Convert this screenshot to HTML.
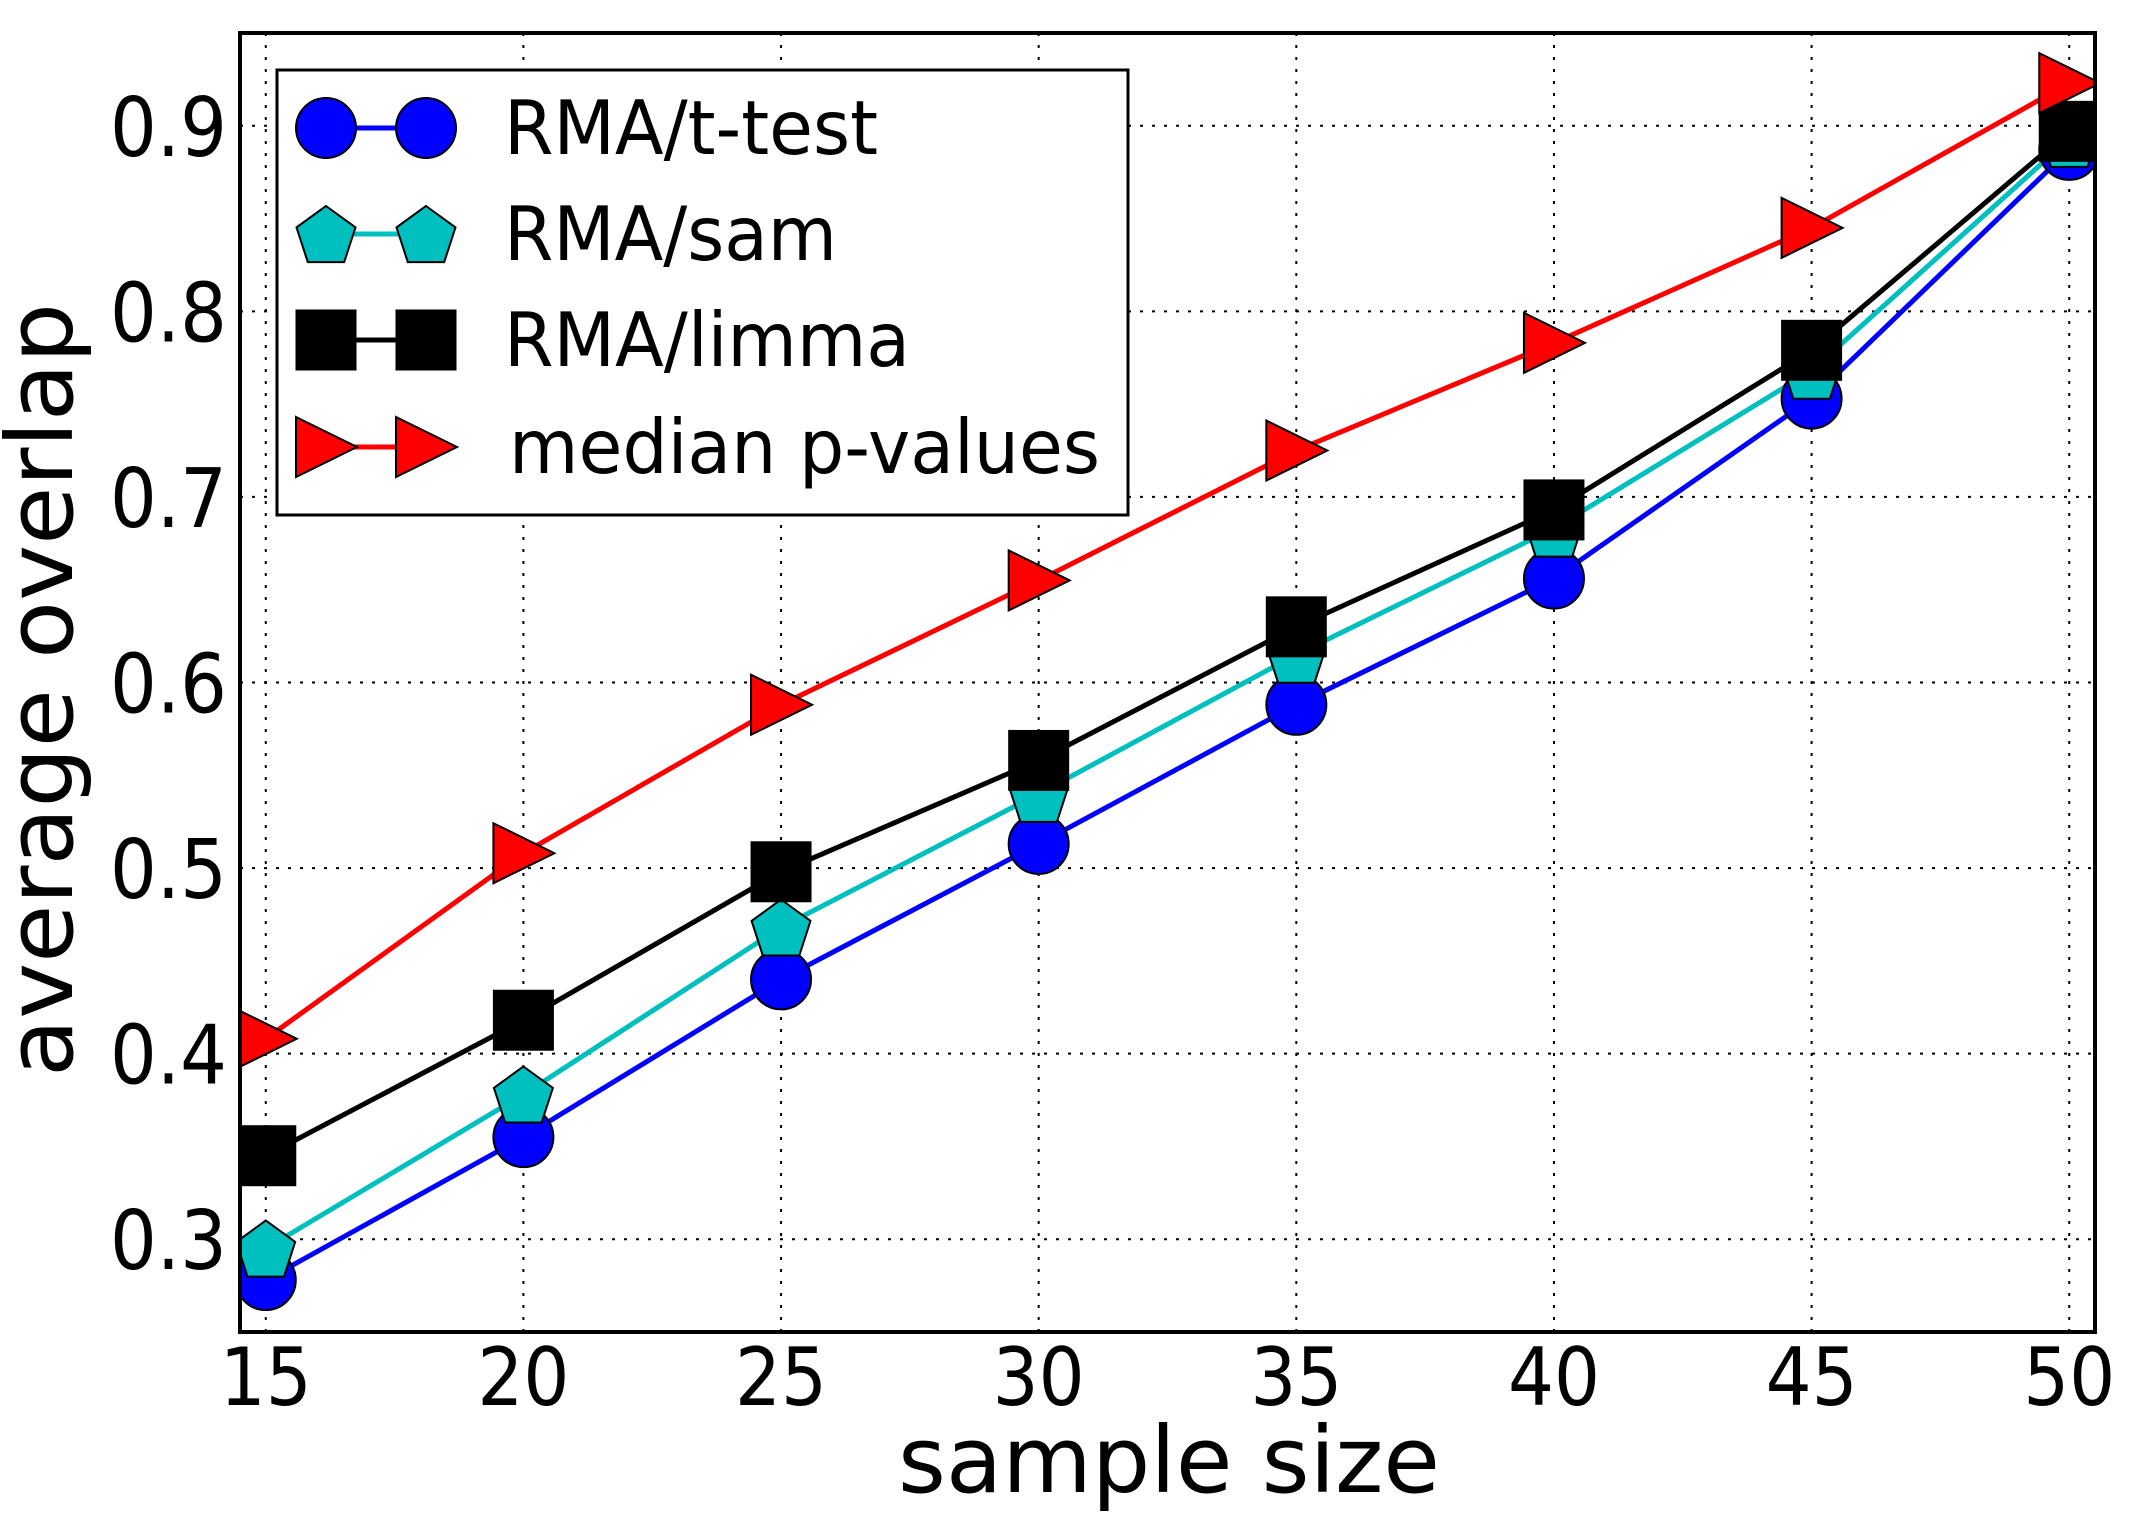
<!DOCTYPE html>
<html><head><meta charset="utf-8"><style>
html,body{margin:0;padding:0;background:#fff}
svg{display:block}
text{font-family:"DejaVu Sans","Liberation Sans",sans-serif;fill:#000}
</style></head><body>
<svg id="chart" width="2153" height="1528" viewBox="0 0 2153 1528" xmlns="http://www.w3.org/2000/svg">
<rect width="2153" height="1528" fill="#fff"/>
<g id="grid"></g>
<g id="series"></g>
<rect x="240" y="33" width="1855" height="1299" fill="none" stroke="#000" stroke-width="4"/>
<g id="ticks"></g>
<text x="898" y="1492" font-size="92" textLength="542" lengthAdjust="spacingAndGlyphs">sample size</text>
<text transform="translate(72,1077) rotate(-90)" font-size="92" textLength="774" lengthAdjust="spacingAndGlyphs">average overlap</text>
<g id="legend">
<rect x="277" y="70" width="851" height="445" fill="#fff" stroke="#000" stroke-width="3"/>
</g>
</svg>
<script>
const categories = [15, 20, 25, 30, 35, 40, 45, 50];
const ttestValues = [0.278, 0.355, 0.440, 0.513, 0.588, 0.656, 0.753, 0.887];
const samValues = [0.295, 0.378, 0.468, 0.540, 0.615, 0.683, 0.768, 0.893];
const limmaValues = [0.345, 0.418, 0.498, 0.558, 0.630, 0.693, 0.779, 0.897];
const medianValues = [0.408, 0.508, 0.588, 0.655, 0.725, 0.783, 0.845, 0.923];
const xTicks = [15, 20, 25, 30, 35, 40, 45, 50];
const yTicks = [0.3, 0.4, 0.5, 0.6, 0.7, 0.8, 0.9];
const yTickLabels = ["0.3", "0.4", "0.5", "0.6", "0.7", "0.8", "0.9"];
const seriesNames = ["RMA/t-test", "RMA/sam", "RMA/limma", "median p-values"];

const NS = "http://www.w3.org/2000/svg";
const L = 240, R = 2095, T = 33, B = 1332;
const xMin = 14.5, xMax = 50.5, yMin = 0.25, yMax = 0.95;
function xs(v){ return L + (v - xMin) / (xMax - xMin) * (R - L); }
function ys(v){ return B - (v - yMin) / (yMax - yMin) * (B - T); }
function mk(tag, attrs, parent){ const e = document.createElementNS(NS, tag); for (const k in attrs) e.setAttribute(k, attrs[k]); parent.appendChild(e); return e; }

const grid = document.getElementById('grid');
const ticks = document.getElementById('ticks');
xTicks.forEach(t => {
  const g = mk('line', {x1: xs(t), x2: xs(t), y1: T, y2: B, stroke: '#000', 'stroke-width': 2, 'stroke-dasharray': '3,9'}, grid);
  
  
  const tl = mk('text', {x: xs(t), y: 1405, 'font-size': 80, 'text-anchor': 'middle', textLength: 92, lengthAdjust: 'spacingAndGlyphs'}, ticks);
  tl.textContent = String(t);
  
  
});
yTicks.forEach((t, i) => {
  const g = mk('line', {x1: L, x2: R, y1: ys(t), y2: ys(t), stroke: '#000', 'stroke-width': 2, 'stroke-dasharray': '3,9'}, grid);
  
  
  const tl = mk('text', {x: 227, y: ys(t) + 30, 'font-size': 82, 'text-anchor': 'end', textLength: 117, lengthAdjust: 'spacingAndGlyphs'}, ticks);
  tl.textContent = yTickLabels[i];
  
  
});

function marker(type, cx, cy, color, parent){
  let e;
  if (type === 'circle') e = mk('circle', {cx: cx, cy: cy, r: 30, fill: color, stroke: '#000', 'stroke-width': 2}, parent);
  else if (type === 'square') e = mk('rect', {x: cx - 30, y: cy - 30, width: 60, height: 60, fill: color, stroke: '#000', 'stroke-width': 1}, parent);
  else if (type === 'pent') {
    const pts = [];
    for (let k = 0; k < 5; k++) { const a = -Math.PI / 2 + k * 2 * Math.PI / 5; pts.push((cx + 31 * Math.cos(a)).toFixed(1) + ',' + (cy + 3 + 31 * Math.sin(a)).toFixed(1)); }
    e = mk('polygon', {points: pts.join(' '), fill: color, stroke: '#000', 'stroke-width': 2}, parent);
  } else {
    e = mk('polygon', {points: (cx - 30) + ',' + (cy - 30) + ' ' + (cx + 31) + ',' + cy + ' ' + (cx - 30) + ',' + (cy + 30), fill: color, stroke: '#000', 'stroke-width': 2}, parent);
  }
  return e;
}

const seriesList = [
  {vals: ttestValues, color: '#0000ff', type: 'circle', key: 'ttest'},
  {vals: samValues, color: '#00bfbf', type: 'pent', key: 'sam'},
  {vals: limmaValues, color: '#000000', type: 'square', key: 'limma'},
  {vals: medianValues, color: '#ff0000', type: 'tri', key: 'median'}
];
const sg = document.getElementById('series');
const clip = mk('clipPath', {id: 'pc'}, mk('defs', {}, sg));
mk('rect', {x: L, y: T, width: R - L, height: B - T}, clip);
const cg = mk('g', {'clip-path': 'url(#pc)'}, sg);
seriesList.forEach(s => {
  const pl = mk('polyline', {points: s.vals.map((v, i) => xs(categories[i]) + ',' + ys(v)).join(' '), fill: 'none', stroke: s.color, 'stroke-width': 5}, cg);
  
  
});
seriesList.forEach(s => {
  s.vals.forEach((v, i) => {
    const m = marker(s.type, xs(categories[i]), ys(v), s.color, cg);
    
    
  });
});

const lg = document.getElementById('legend');
const rowsY = [128, 234, 340, 447];
const textLens = [374, 333, 406, 591];
seriesList.forEach((s, i) => {
  const y = rowsY[i];
  const ln = mk('line', {x1: 326, x2: 426, y1: y, y2: y, stroke: s.color, 'stroke-width': 5}, lg);
  
  
  const m1 = marker(s.type, 326, y, s.color, lg);
  
  
  const m2 = marker(s.type, 426, y, s.color, lg);
  
  
  const t = mk('text', {x: i === 3 ? 509 : 504, y: y + 26, 'font-size': 75, textLength: textLens[i], lengthAdjust: 'spacingAndGlyphs'}, lg);
  t.textContent = seriesNames[i];
  
  
});
</script>
</body></html>
